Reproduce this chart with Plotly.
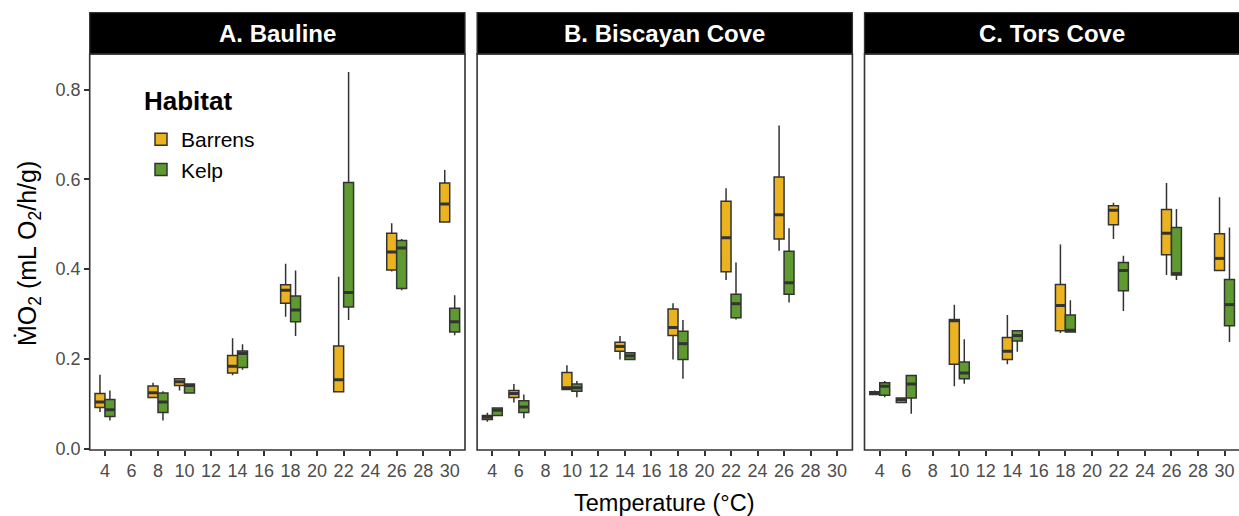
import plotly.graph_objects as go

# ---- data: box statistics per site and habitat -------------------------
# each row: [lower whisker, q1, median, q3, upper whisker]
temp_ticks = [4, 6, 8, 10, 12, 14, 16, 18, 20, 22, 24, 26, 28, 30]
y_ticks = [0.0, 0.2, 0.4, 0.6, 0.8]
y_tick_labels = ["0.0", "0.2", "0.4", "0.6", "0.8"]

site_names = ["A. Bauline", "B. Biscayan Cove", "C. Tors Cove"]
habitats = ["Barrens", "Kelp"]
habitat_colors = ["#ECB321", "#5F9A31"]

bauline_temps = [4, 8, 10, 14, 18, 22, 26, 30]
bauline_barrens = [
    [0.082, 0.092, 0.104, 0.123, 0.165],
    [0.113, 0.114, 0.125, 0.140, 0.147],
    [0.130, 0.141, 0.149, 0.156, 0.157],
    [0.164, 0.169, 0.184, 0.208, 0.246],
    [0.294, 0.324, 0.353, 0.365, 0.412],
    [0.127, 0.127, 0.154, 0.229, 0.383],
    [0.395, 0.398, 0.438, 0.480, 0.502],
    [0.505, 0.505, 0.545, 0.592, 0.621],
]
bauline_kelp = [
    [0.063, 0.072, 0.087, 0.110, 0.130],
    [0.063, 0.081, 0.104, 0.124, 0.128],
    [0.123, 0.124, 0.141, 0.144, 0.145],
    [0.176, 0.181, 0.212, 0.218, 0.233],
    [0.251, 0.283, 0.309, 0.340, 0.397],
    [0.287, 0.316, 0.348, 0.593, 0.839],
    [0.353, 0.357, 0.447, 0.464, 0.467],
    [0.253, 0.260, 0.283, 0.313, 0.342],
]

biscayan_temps = [4, 6, 10, 14, 18, 22, 26]
biscayan_barrens = [
    [0.060, 0.065, 0.070, 0.074, 0.080],
    [0.103, 0.114, 0.123, 0.130, 0.144],
    [0.132, 0.132, 0.136, 0.170, 0.186],
    [0.199, 0.217, 0.228, 0.237, 0.251],
    [0.199, 0.252, 0.270, 0.311, 0.324],
    [0.376, 0.394, 0.470, 0.551, 0.580],
    [0.441, 0.467, 0.521, 0.605, 0.720],
]
biscayan_kelp = [
    [0.074, 0.074, 0.086, 0.091, 0.091],
    [0.068, 0.081, 0.093, 0.107, 0.121],
    [0.115, 0.128, 0.136, 0.144, 0.151],
    [0.199, 0.199, 0.207, 0.214, 0.215],
    [0.156, 0.199, 0.234, 0.262, 0.287],
    [0.288, 0.292, 0.323, 0.344, 0.415],
    [0.326, 0.344, 0.370, 0.440, 0.491],
]

tors_temps = [4, 6, 10, 14, 18, 22, 26, 30]
tors_barrens = [
    [0.121, 0.121, 0.124, 0.127, 0.130],
    [0.103, 0.103, 0.109, 0.113, 0.113],
    [0.139, 0.188, 0.285, 0.288, 0.321],
    [0.188, 0.199, 0.217, 0.248, 0.298],
    [0.258, 0.263, 0.319, 0.366, 0.455],
    [0.467, 0.499, 0.531, 0.541, 0.548],
    [0.387, 0.432, 0.480, 0.533, 0.592],
    [0.397, 0.397, 0.424, 0.479, 0.560],
]
tors_kelp = [
    [0.115, 0.119, 0.139, 0.147, 0.151],
    [0.078, 0.113, 0.144, 0.163, 0.163],
    [0.145, 0.156, 0.169, 0.193, 0.244],
    [0.216, 0.240, 0.252, 0.263, 0.263],
    [0.260, 0.260, 0.264, 0.298, 0.331],
    [0.307, 0.352, 0.397, 0.415, 0.430],
    [0.376, 0.387, 0.390, 0.493, 0.534],
    [0.238, 0.274, 0.321, 0.377, 0.493],
]

site_temps = [bauline_temps, biscayan_temps, tors_temps]
site_stats = [
    [bauline_barrens, bauline_kelp],
    [biscayan_barrens, biscayan_kelp],
    [tors_barrens, tors_kelp],
]

# ---- layout geometry (pixels) -------------------------------------------
W, H = 1239, 516
FONT = "Liberation Sans, Arial, Helvetica, sans-serif"
INK = "#333333"
panel_left = [89.7, 477.1, 864.5]
panel_w = 375.3
panel_top, panel_bottom = 54.0, 450.0
strip_top = 12.7
px_per_unit = 13.26
x_lo = 2.85
y_range = [-0.0027, 0.8791]
box_w = 0.75
dodge = box_w / 2


def fx(p):
    return p / W


def fy(p):
    return 1 - p / H


fig = go.Figure()
shapes = []
annotations = []
layout_axes = {}

for i, (name, temps, stats) in enumerate(zip(site_names, site_temps, site_stats)):
    suffix = "" if i == 0 else str(i + 1)
    xref, yref = "x" + suffix, "y" + suffix
    left = panel_left[i]
    right = min(left + panel_w, W)
    x_hi = x_lo + (right - left) / px_per_unit

    for h, (habitat, color) in enumerate(zip(habitats, habitat_colors)):
        rows = stats[h]
        shift = -dodge if h == 0 else dodge
        xs = [t + shift for t in temps]
        fig.add_trace(go.Box(
            x=xs,
            lowerfence=[r[0] for r in rows],
            q1=[r[1] for r in rows],
            median=[r[2] for r in rows],
            q3=[r[3] for r in rows],
            upperfence=[r[4] for r in rows],
            width=box_w,
            whiskerwidth=0,
            boxpoints=False,
            fillcolor=color,
            line=dict(color=INK, width=1.5),
            name=habitat,
            legendgroup=habitat,
            showlegend=(i == 0),
            xaxis=xref, yaxis=yref,
            hoverinfo="skip",
        ))
        # thicker median bars
        mx, my = [], []
        for x, r in zip(xs, rows):
            mx += [x - box_w / 2, x + box_w / 2, None]
            my += [r[2], r[2], None]
        fig.add_trace(go.Scatter(
            x=mx, y=my, mode="lines",
            line=dict(color=INK, width=3),
            showlegend=False, hoverinfo="skip",
            xaxis=xref, yaxis=yref,
        ))

    layout_axes["xaxis" + suffix] = dict(
        domain=[fx(left), fx(right)],
        range=[x_lo, x_hi],
        anchor=yref,
        automargin=False,
        tickmode="array", tickvals=temp_ticks,
        ticks="outside", ticklen=4.5, tickwidth=1.5, tickcolor=INK,
        tickfont=dict(family=FONT, size=18, color="#4D4D4D"),
        showgrid=False, zeroline=False, showline=False,
    )
    layout_axes["yaxis" + suffix] = dict(
        domain=[fy(panel_bottom), fy(panel_top)],
        range=y_range,
        anchor=xref,
        automargin=False,
        tickmode="array", tickvals=y_ticks, ticktext=y_tick_labels,
        ticks="outside" if i == 0 else "", ticklen=4.5, tickwidth=1.5, tickcolor=INK,
        showticklabels=(i == 0),
        tickfont=dict(family=FONT, size=18, color="#4D4D4D"),
        showgrid=False, zeroline=False, showline=False,
    )

    # panel border
    shapes.append(dict(
        type="rect", xref="paper", yref="paper",
        x0=fx(left), x1=fx(left + panel_w), y0=fy(panel_bottom), y1=fy(panel_top),
        line=dict(color=INK, width=1.6), fillcolor="rgba(0,0,0,0)", layer="above",
    ))
    # facet strip
    shapes.append(dict(
        type="rect", xref="paper", yref="paper",
        x0=fx(left), x1=fx(left + panel_w), y0=fy(panel_top), y1=fy(strip_top),
        line=dict(color=INK, width=1.3), fillcolor="#000000", layer="above",
    ))
    annotations.append(dict(
        text=name, xref="paper", yref="paper",
        x=fx(left + panel_w / 2), y=fy((panel_top + strip_top) / 2),
        xanchor="center", yanchor="middle", showarrow=False,
        font=dict(family=FONT, size=24, color="white", weight=700),
    ))

annotations.append(dict(
    text="Temperature (°C)", xref="paper", yref="paper",
    x=fx(664), y=fy(503), xanchor="center", yanchor="middle", showarrow=False,
    font=dict(family=FONT, size=23.5, color="black"),
))
annotations.append(dict(
    text="ṀO<sub>2</sub> (mL O<sub>2</sub>/h/g)", xref="paper", yref="paper",
    x=fx(29), y=fy(254), xanchor="center", yanchor="middle", showarrow=False,
    textangle=-90,
    font=dict(family=FONT, size=25, color="black"),
))
# legend heading
annotations.append(dict(
    text="Habitat", xref="paper", yref="paper",
    x=fx(142), y=fy(101), xanchor="left", yanchor="middle", showarrow=False,
    font=dict(family=FONT, size=26, color="black", weight=700),
))

fig.update_layout(
    width=W, height=H,
    margin=dict(l=0, r=0, t=0, b=0, autoexpand=False),
    paper_bgcolor="white", plot_bgcolor="white",
    boxmode="overlay",
    shapes=shapes,
    annotations=annotations,
    legend=dict(
        x=fx(141), y=fy(119), xanchor="left", yanchor="top",
        bgcolor="rgba(0,0,0,0)",
        font=dict(family=FONT, size=21, color="black"),
        tracegroupgap=0,
    ),
    **layout_axes,
)

fig.write_html("out.html")
